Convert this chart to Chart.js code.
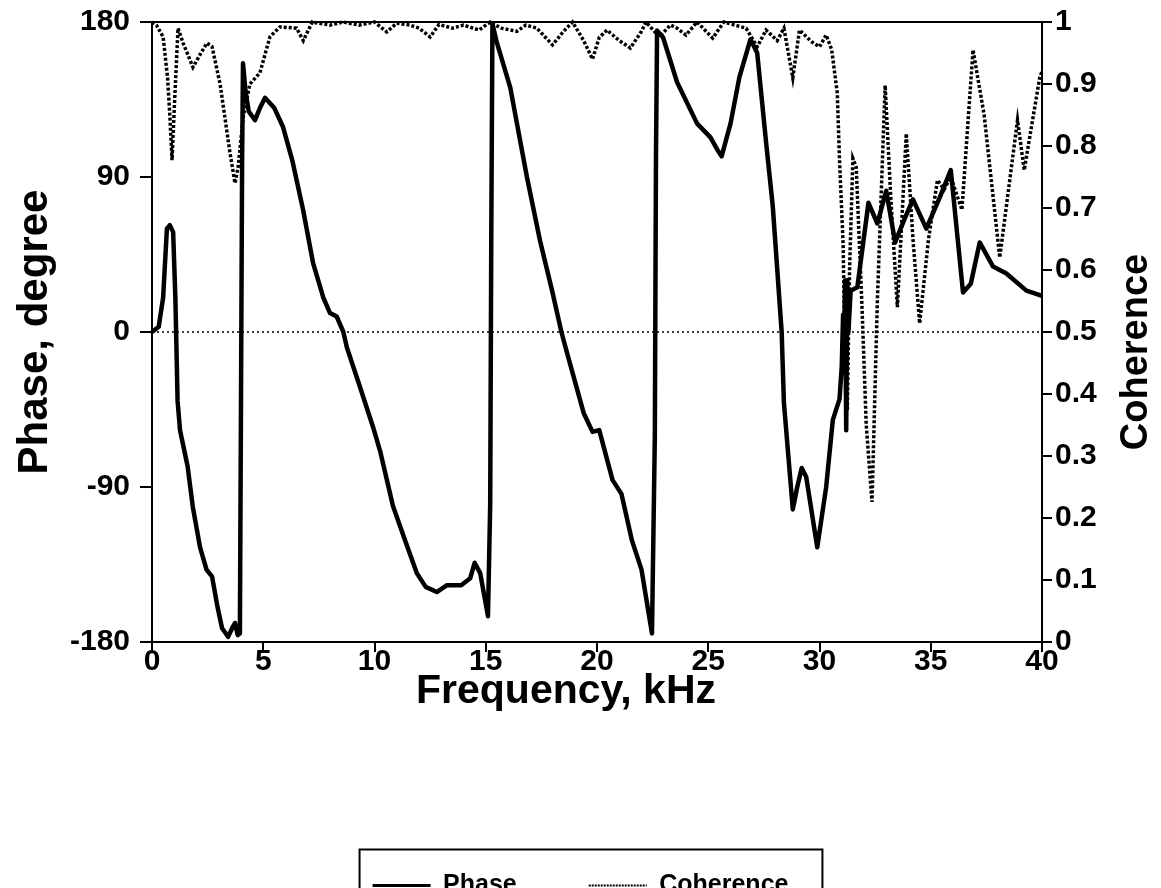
<!DOCTYPE html>
<html>
<head>
<meta charset="utf-8">
<title>Phase and Coherence</title>
<script src="https://cdn.jsdelivr.net/npm/chart.js@4.4.1/dist/chart.umd.min.js"></script>
<style>
  html, body { margin: 0; padding: 0; background: #fff; }
  #wrap { width: 1161px; height: 888px; }
</style>
</head>
<body>
<div id="wrap"><canvas id="chart"></canvas></div>
<script>
// Phase curve (kHz, degree)
const phaseFreq = [0, 0.3, 0.5, 0.67, 0.8, 0.95, 1.05, 1.15, 1.26, 1.6, 1.84, 2.16, 2.45, 2.7, 2.95, 3.15, 3.42, 3.6, 3.73, 3.85, 3.95,
  4.0, 4.05, 4.09, 4.2, 4.35, 4.63, 4.85, 5.08, 5.5, 5.89, 6.3, 6.79, 7.24, 7.7, 8.0, 8.3, 8.6, 8.76, 9.3, 9.93, 10.25, 10.83,
  11.4, 11.9, 12.3, 12.8, 13.26, 13.9, 14.3, 14.5, 14.75, 15.1, 15.2, 15.25, 15.3, 15.5, 16.1, 16.85, 17.44, 18.0, 18.4, 18.65,
  19.4, 19.8, 20.1, 20.7, 21.1, 21.57, 22.0, 22.47, 22.6, 22.65, 22.7, 22.97, 23.6, 24.5, 25.1, 25.4, 25.6, 26.0, 26.4, 26.9,
  27.2, 27.6, 27.9, 28.3, 28.4, 28.8, 29.0, 29.2, 29.4, 29.9, 30.3, 30.6, 30.9, 31.0, 31.06, 31.1, 31.15, 31.2, 31.25, 31.3,
  31.4, 31.7, 32.2, 32.6, 33.0, 33.4, 33.8, 34.2, 34.8, 35.4, 35.9, 36.45, 36.8, 37.2, 37.8, 38.4, 39.3, 40];
const phaseVals = [0, 3, 20, 60, 62, 58, 20, -40, -57, -78, -102, -125, -138, -142, -160, -172, -177, -172, -169, -176, -175,
  -40, 100, 156, 140, 128, 123, 130, 136, 130, 119, 100, 71, 40, 20, 11, 9, 0, -9, -30, -55, -69, -101,
  -122, -140, -148, -151, -147, -147, -143, -134, -140, -165, -100, 60, 179, 168, 142, 90, 53, 23, 0, -12,
  -47, -58, -57, -86, -94, -121, -138, -175, -60, 100, 175, 171, 145, 121, 113, 106, 102, 121, 148, 170,
  162, 110, 73, 0, -41, -103, -90, -79, -84, -125, -90, -51, -39, -20, 10, -15, 30, -57, 30, 0,
  24, 26, 75, 63, 82, 52, 65, 77, 60, 78, 94, 23, 28, 52, 38, 34, 24, 21];

// Coherence curve (kHz, 0..1)
const cohFreq = [0, 0.2, 0.5, 0.7, 0.8, 0.9, 1.0, 1.17, 1.4, 1.84, 2.2, 2.47, 2.7, 3.06, 3.3, 3.5, 3.73, 3.87, 4.1, 4.4, 4.85,
  5.3, 5.75, 6.5, 6.8, 7.2, 8.0, 8.6, 9.3, 10.0, 10.55, 11.0, 11.6, 12.0, 12.5, 12.9, 13.5, 14.0, 14.7, 15.2, 15.7, 16.4,
  16.8, 17.3, 18.0, 18.5, 18.9, 19.4, 19.8, 20.1, 20.45, 21.0, 21.5, 22.0, 22.2, 22.8, 23.3, 23.6, 24.0, 24.5, 25.2, 25.7,
  26.2, 26.7, 27.2, 27.6, 28.1, 28.4, 28.8, 29.1, 29.65, 30.0, 30.3, 30.55, 30.8, 30.9, 31.06, 31.15, 31.25, 31.35, 31.5,
  31.65, 31.9, 32.1, 32.36, 32.6, 32.95, 33.2, 33.5, 33.9, 34.2, 34.5, 34.9, 35.3, 35.6, 35.9, 36.4, 36.9, 37.4, 38.1,
  38.9, 39.2, 39.9, 40];
const cohVals = [1.0, 0.995, 0.976, 0.91, 0.85, 0.777, 0.86, 0.99, 0.966, 0.927, 0.95, 0.966, 0.96, 0.9, 0.84, 0.79, 0.74, 0.766, 0.847, 0.9, 0.918,
  0.976, 0.992, 0.99, 0.97, 1.0, 0.995, 1.0, 0.995, 1.0, 0.984, 0.998, 0.995, 0.99, 0.976, 0.996, 0.99, 0.995, 0.987, 1.0, 0.99, 0.985,
  0.995, 0.99, 0.963, 0.985, 1.0, 0.97, 0.94, 0.975, 0.987, 0.97, 0.958, 0.985, 1.0, 0.976, 0.995, 0.99, 0.979, 1.0, 0.974, 1.0,
  0.995, 0.99, 0.96, 0.987, 0.97, 0.99, 0.91, 0.987, 0.968, 0.96, 0.979, 0.955, 0.885, 0.777, 0.643, 0.45, 0.374, 0.6, 0.78,
  0.766, 0.55, 0.35, 0.226, 0.55, 0.898, 0.72, 0.54, 0.82, 0.65, 0.514, 0.65, 0.745, 0.73, 0.75, 0.697, 0.955, 0.85, 0.62,
  0.842, 0.761, 0.911, 0.92];

// dotted reference line at 0 degree
const zeroFreq = [0, 40];
const zeroVals = [0, 0];

const phaseTicks = [-180, -90, 0, 90, 180];

const FONT = '"Liberation Sans", Arial, sans-serif';
Chart.defaults.font.family = FONT;
Chart.defaults.font.weight = 'bold';
Chart.defaults.color = '#000';

function toPoints(xs, ys) {
  return xs.map((x, i) => ({ x, y: ys[i] }));
}

// the end labels may hang over the plot top, like in the original
function fitVertical(width) {
  return (s) => {
    s.width = width;
    s.paddingTop = 0;
    s.paddingBottom = 0;
  };
}

// top border, axis titles that sit off-centre and the frame round the legend
const framePlugin = {
  id: 'frame',
  afterDraw(chart) {
    const { ctx, chartArea: a } = chart;
    ctx.save();
    ctx.strokeStyle = '#000';
    ctx.lineWidth = 2;
    ctx.beginPath();
    ctx.moveTo(a.left, a.top);
    ctx.lineTo(a.right, a.top);
    ctx.stroke();

    ctx.fillStyle = '#000';
    ctx.font = `bold 41px ${FONT}`;
    ctx.textAlign = 'center';
    ctx.textBaseline = 'alphabetic';
    ctx.fillText('Frequency, kHz', (a.left + a.right) / 2 - 31, a.bottom + 61);

    ctx.font = `bold 38px ${FONT}`;
    ctx.textBaseline = 'middle';
    ctx.translate(chart.width - 24, (a.top + a.bottom) / 2 + 20);
    ctx.rotate(-Math.PI / 2);
    ctx.fillText('Coherence', 0, 0);
    ctx.restore();

    const hb = chart.legend.legendHitBoxes;
    if (hb && hb.length) {
      const last = hb[hb.length - 1];
      const cy = hb[0].top + hb[0].height / 2;
      const left = hb[0].left - 13;
      ctx.save();
      ctx.strokeStyle = '#000';
      ctx.lineWidth = 2;
      ctx.strokeRect(left, cy - 36, last.left + last.width + 34 - left, 70);
      ctx.restore();
    }
  }
};

const ctx = document.getElementById('chart').getContext('2d');
new Chart(ctx, {
  type: 'line',
  data: {
    datasets: [
      {
        label: 'Phase',
        data: toPoints(phaseFreq, phaseVals),
        yAxisID: 'y',
        borderColor: '#000',
        borderWidth: 4.5,
        pointRadius: 0,
        tension: 0,
        borderJoinStyle: 'round',
        clip: false,
      },
      {
        label: 'Coherence',
        data: toPoints(cohFreq, cohVals),
        yAxisID: 'y1',
        borderColor: '#000',
        borderWidth: 3.5,
        borderDash: [3, 2],
        pointRadius: 0,
        tension: 0,
        clip: false,
      },
      {
        label: '',
        data: toPoints(zeroFreq, zeroVals),
        yAxisID: 'y',
        borderColor: '#000',
        borderWidth: 1.5,
        borderDash: [2, 3],
        pointRadius: 0,
      },
    ],
  },
  options: {
    responsive: true,
    maintainAspectRatio: false,
    animation: false,
    layout: { padding: { top: 22, bottom: -20, left: 0, right: 0 } },
    plugins: {
      tooltip: { enabled: false },
      legend: {
        position: 'bottom',
        labels: {
          filter: (item) => item.text !== '',
          generateLabels: (chart) => {
            const items = Chart.defaults.plugins.legend.labels.generateLabels(chart);
            items.forEach((it) => {
              if (it.text === 'Phase') it.lineWidth = 3;
              if (it.text === 'Coherence') { it.lineWidth = 2; it.lineDash = [2, 1]; }
            });
            return items;
          },
          usePointStyle: true,
          pointStyle: 'line',
          pointStyleWidth: 58,
          padding: 72,
          color: '#000',
          font: { size: 25, weight: 'bold' },
        },
      },
    },
    scales: {
      x: {
        type: 'linear',
        min: 0,
        max: 40,
        ticks: { stepSize: 5, font: { size: 30 }, padding: -8, color: '#000' },
        grid: { drawOnChartArea: false, tickLength: 10, color: '#000', lineWidth: 2 },
        border: { color: '#000', width: 2 },
        afterFit: (s) => { s.height = 159; },
      },
      y: {
        position: 'left',
        min: -180,
        max: 180,
        afterBuildTicks: (s) => { s.ticks = phaseTicks.map((v) => ({ value: v })); },
        ticks: { font: { size: 30 }, padding: 10, color: '#000' },
        grid: { drawOnChartArea: false, tickLength: 12, color: '#000', lineWidth: 2 },
        border: { color: '#000', width: 2 },
        title: { display: true, text: 'Phase, degree', font: { size: 42 }, padding: { top: 10, bottom: 0 } },
        afterFit: fitVertical(152),
      },
      y1: {
        position: 'right',
        min: 0,
        max: 1,
        ticks: {
          stepSize: 0.1,
          font: { size: 30 },
          padding: 3,
          color: '#000',
          callback: (v) => (v === 0 || v === 1 ? String(v) : v.toFixed(1)),
        },
        grid: { drawOnChartArea: false, tickLength: 10, color: '#000', lineWidth: 2 },
        border: { color: '#000', width: 2 },
        afterFit: fitVertical(119),
      },
    },
  },
  plugins: [framePlugin],
});
</script>
</body>
</html>
